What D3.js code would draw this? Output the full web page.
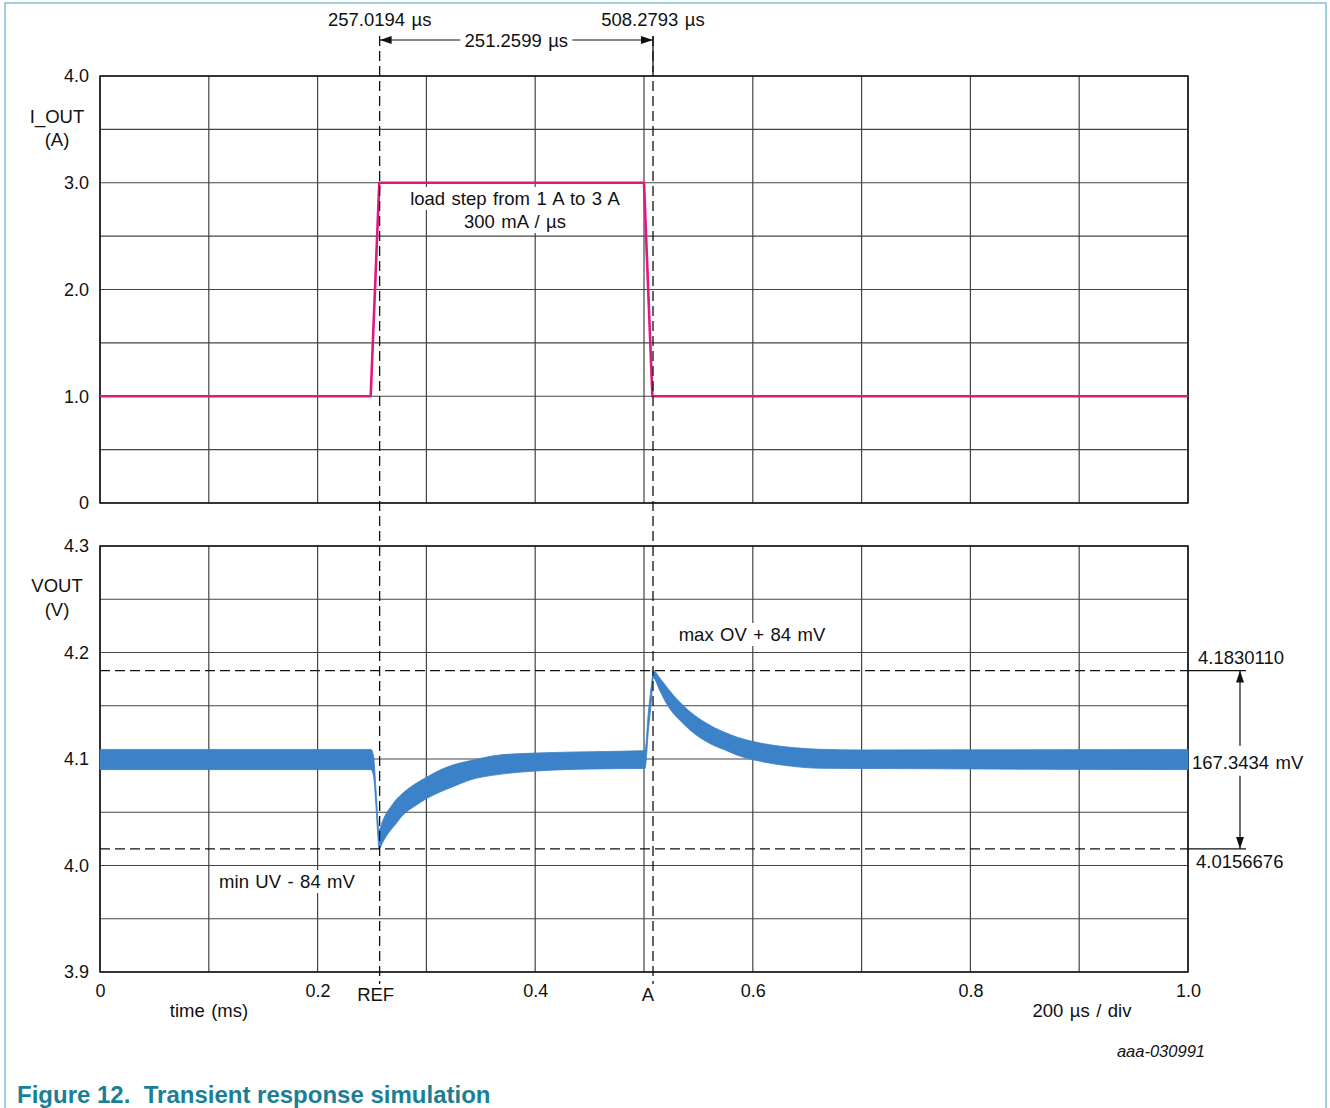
<!DOCTYPE html>
<html>
<head>
<meta charset="utf-8">
<script src="https://cdn.jsdelivr.net/npm/d3@7"></script>
<style>
  body { margin: 0; background: #fff; }
  text { font-family: "Liberation Sans", Arial, sans-serif; fill: #111; }
</style>
</head>
<body>
<svg id="chart"></svg>
<script>
// ---- data ----
const xTickValues = [0, 0.2, 0.4, 0.6, 0.8, 1.0];
const xTickLabels = ["0", "0.2", "0.4", "0.6", "0.8", "1.0"];
const iTickValues = [0, 1, 2, 3, 4];
const iTickLabels = ["0", "1.0", "2.0", "3.0", "4.0"];
const vTickValues = [3.9, 4.0, 4.1, 4.2, 4.3];
const vTickLabels = ["3.9", "4.0", "4.1", "4.2", "4.3"];

// I_OUT load step (time in ms, current in A)
const iTime = [0, 0.2488, 0.2567, 0.5000, 0.5077, 1.0];
const iOut  = [1, 1, 3, 3, 1, 1];

// VOUT ripple band, upper and lower envelope (V)
const vTime  = [0, 0.2491, 0.2512, 0.2537, 0.2552, 0.2564, 0.2601, 0.2638, 0.2665, 0.2711,
                0.2785, 0.2895, 0.3006, 0.3125, 0.3244, 0.3401, 0.3676, 0.4007, 0.4531, 0.4991,
                0.5009, 0.5040, 0.5071, 0.5085, 0.5147, 0.5209, 0.5269, 0.5346, 0.5423, 0.5499,
                0.5576, 0.5653, 0.5729, 0.5864, 0.6011, 0.6176, 0.6342, 0.6618, 0.6985, 1.0];
const vUpper = [4.109, 4.109, 4.104, 4.071, 4.046, 4.0333, 4.0427, 4.0502, 4.054, 4.0606,
                4.0681, 4.0765, 4.0831, 4.0897, 4.0944, 4.0984, 4.1038, 4.1056, 4.1069, 4.1078,
                4.108, 4.144, 4.172, 4.183, 4.1758, 4.1676, 4.1601, 4.1516, 4.1444, 4.1385,
                4.1335, 4.1291, 4.1256, 4.1202, 4.1162, 4.1131, 4.1110, 4.1091, 4.1085, 4.109];
const vLower = [4.090, 4.090, 4.085, 4.055, 4.030, 4.0157, 4.0221, 4.0286, 4.0324, 4.038,
                4.0474, 4.0559, 4.0631, 4.069, 4.074, 4.0803, 4.0856, 4.0887, 4.0906, 4.0911,
                4.091, 4.126, 4.158, 4.1761, 4.1638, 4.1516, 4.1429, 4.1347, 4.1272, 4.1211,
                4.1162, 4.1122, 4.1091, 4.1033, 4.0991, 4.0958, 4.0934, 4.0913, 4.0911, 4.090];

// cursors / measurements
const refTime = 0.2570194, aTime = 0.5082793;
const ovMax = 4.1830110, uvMin = 4.0156676;
const cursorLabels = ["257.0194 µs", "508.2793 µs"];
const deltaTLabel = "251.2599 µs";
const deltaVLabel = "167.3434 mV";
const ovLabel = "4.1830110", uvLabel = "4.0156676";

// ---- layout ----
const svgWidth = 1330, svgHeight = 1108;
const svg = d3.select("#chart").attr("width", svgWidth).attr("height", svgHeight);

const x  = d3.scaleLinear().domain([0, 1]).range([100, 1188]);
const yI = d3.scaleLinear().domain([0, 4]).range([503, 76]);
const yV = d3.scaleLinear().domain([3.9, 4.3]).range([972, 546]);

// page frame
svg.append("rect")
  .attr("x", 5).attr("y", 3).attr("width", 1321).attr("height", 1120)
  .attr("fill", "none").attr("stroke", "#84c0d2").attr("stroke-width", 1.5);

const defs = svg.append("defs");
defs.append("marker")
  .attr("id", "arrow").attr("viewBox", "0 0 12 8")
  .attr("refX", 12).attr("refY", 4)
  .attr("markerWidth", 12).attr("markerHeight", 8)
  .attr("markerUnits", "userSpaceOnUse")
  .attr("orient", "auto")
  .append("path").attr("d", "M0,0 L12,4 L0,8 Z").attr("fill", "#111");

function grid(g, yScale, yTicks) {
  g.selectAll(".vg").data(x.ticks(10)).enter().append("line")
    .attr("x1", d => x(d)).attr("x2", d => x(d))
    .attr("y1", yScale.range()[0]).attr("y2", yScale.range()[1])
    .attr("stroke", "#444").attr("stroke-width", 1.2);
  g.selectAll(".hg").data(yTicks).enter().append("line")
    .attr("x1", x(0)).attr("x2", x(1))
    .attr("y1", d => yScale(d)).attr("y2", d => yScale(d))
    .attr("stroke", "#444").attr("stroke-width", 1.2);
  g.append("rect")
    .attr("x", x(0)).attr("y", yScale.range()[1])
    .attr("width", x(1) - x(0)).attr("height", yScale.range()[0] - yScale.range()[1])
    .attr("fill", "none").attr("stroke", "#111").attr("stroke-width", 1.5);
}

grid(svg.append("g"), yI, yI.ticks(8));
grid(svg.append("g"), yV, yV.ticks(8));

// y axes
function yAxis(scale, values, labels) {
  const g = svg.append("g")
    .attr("transform", "translate(" + (x(0) - 11) + ",0)")
    .call(d3.axisLeft(scale).tickValues(values)
      .tickFormat((d, i) => labels[i]).tickSize(0).tickPadding(0));
  g.select(".domain").remove();
  g.selectAll("text").attr("font-size", 18).attr("font-family", null).attr("fill", "#111");
}
yAxis(yI, iTickValues, iTickLabels);
yAxis(yV, vTickValues, vTickLabels);

// x axis
const xa = svg.append("g")
  .attr("transform", "translate(0," + (yV(3.9) + 12) + ")")
  .call(d3.axisBottom(x).tickValues(xTickValues)
    .tickFormat((d, i) => xTickLabels[i]).tickSize(0).tickPadding(0));
xa.select(".domain").remove();
xa.selectAll("text").attr("font-size", 18).attr("font-family", null).attr("fill", "#111");

// I_OUT trace
const iData = iTime.map((t, i) => ({ t: t, v: iOut[i] }));
svg.append("path")
  .datum(iData)
  .attr("fill", "none")
  .attr("stroke", "#e2187f")
  .attr("stroke-width", 2.6)
  .attr("stroke-linejoin", "round")
  .attr("d", d3.line().x(d => x(d.t)).y(d => yI(d.v)));

// VOUT band
const vData = vTime.map((t, i) => ({ t: t, hi: vUpper[i], lo: vLower[i] }));
svg.append("path")
  .datum(vData)
  .attr("fill", "#3b82c8")
  .attr("stroke", "#3b82c8")
  .attr("stroke-width", 0.8)
  .attr("d", d3.area().curve(d3.curveMonotoneX)
    .x(d => x(d.t)).y0(d => yV(d.lo)).y1(d => yV(d.hi)));

// OV / UV dashed levels
[ovMax, uvMin].forEach(v => {
  svg.append("line")
    .attr("x1", x(0)).attr("x2", x(1)).attr("y1", yV(v)).attr("y2", yV(v))
    .attr("stroke", "#111").attr("stroke-width", 1.3).attr("stroke-dasharray", "10,5");
  svg.append("line")
    .attr("x1", x(1)).attr("x2", x(1) + 58).attr("y1", yV(v)).attr("y2", yV(v))
    .attr("stroke", "#111").attr("stroke-width", 1.2);
});

// time cursors
[refTime, aTime].forEach(t => {
  svg.append("line")
    .attr("x1", x(t)).attr("x2", x(t)).attr("y1", 36).attr("y2", 984)
    .attr("stroke", "#111").attr("stroke-width", 1.3).attr("stroke-dasharray", "10,5");
});
svg.append("line")
  .attr("x1", x(aTime)).attr("x2", x(aTime)).attr("y1", 36).attr("y2", 72)
  .attr("stroke", "#111").attr("stroke-width", 1.3);

// delta-t arrow
const arrowY = 40;
const midT = (x(refTime) + x(aTime)) / 2;
svg.append("line").attr("x1", midT - 56).attr("x2", x(refTime))
  .attr("y1", arrowY).attr("y2", arrowY)
  .attr("stroke", "#111").attr("stroke-width", 1.2).attr("marker-end", "url(#arrow)");
svg.append("line").attr("x1", midT + 56).attr("x2", x(aTime))
  .attr("y1", arrowY).attr("y2", arrowY)
  .attr("stroke", "#111").attr("stroke-width", 1.2).attr("marker-end", "url(#arrow)");

// delta-v arrow
const arrowX = 1240;
const midV = (yV(ovMax) + yV(uvMin)) / 2;
svg.append("line").attr("x1", arrowX).attr("x2", arrowX)
  .attr("y1", midV - 14).attr("y2", yV(ovMax))
  .attr("stroke", "#111").attr("stroke-width", 1.2).attr("marker-end", "url(#arrow)");
svg.append("line").attr("x1", arrowX).attr("x2", arrowX)
  .attr("y1", midV + 16).attr("y2", yV(uvMin))
  .attr("stroke", "#111").attr("stroke-width", 1.2).attr("marker-end", "url(#arrow)");

// text helper, optional white box behind
function label(txt, tx, ty, opts) {
  opts = opts || {};
  const g = svg.append("g");
  const t = g.append("text")
    .attr("x", tx).attr("y", ty)
    .attr("text-anchor", opts.anchor || "middle")
    .attr("font-size", opts.size || 18.5)
    .attr("font-style", opts.italic ? "italic" : null)
    .attr("font-weight", opts.bold ? "bold" : null)
    .style("white-space", "pre")
    .style("word-spacing", (opts.ws == null ? 1.3 : opts.ws) + "px")
    .text(txt);
  if (opts.fill) t.style("fill", opts.fill);
  if (opts.box) {
    const b = t.node().getBBox();
    g.insert("rect", "text")
      .attr("x", b.x - 3).attr("y", b.y - 1)
      .attr("width", b.width + 6).attr("height", b.height + 2)
      .attr("fill", "#fff");
  }
  return t;
}

label(cursorLabels[0], x(refTime), 26, { box: true });
label(cursorLabels[1], x(aTime), 26, { box: true });
label(deltaTLabel, midT, 47, { box: true });

label("I_OUT", 57, 123);
label("(A)", 57, 146);
label("VOUT", 57, 592);
label("(V)", 57, 616);

label("load step from 1 A to 3 A", 515, 205, { box: true });
label("300 mA / µs", 515, 228, { box: true });
label("max OV + 84 mV", 752, 641, { box: true });
label("min UV - 84 mV", 287, 888, { box: true });

label(ovLabel, 1198, 664, { anchor: "start" });
label(deltaVLabel, 1192, 769, { anchor: "start" });
label(uvLabel, 1196, 868, { anchor: "start" });

label("REF", x(refTime) - 4, 1001);
label("A", x(aTime) - 5, 1001);
label("time (ms)", 209, 1017);
label("200 µs / div", 1082, 1017);

label("aaa-030991", 1205, 1057, { anchor: "end", size: 16.5, italic: true, ws: 0 });
label("Figure 12.  Transient response simulation", 17, 1103,
  { anchor: "start", size: 24, bold: true, fill: "#1a7f96", ws: 0 });
</script>
</body>
</html>
